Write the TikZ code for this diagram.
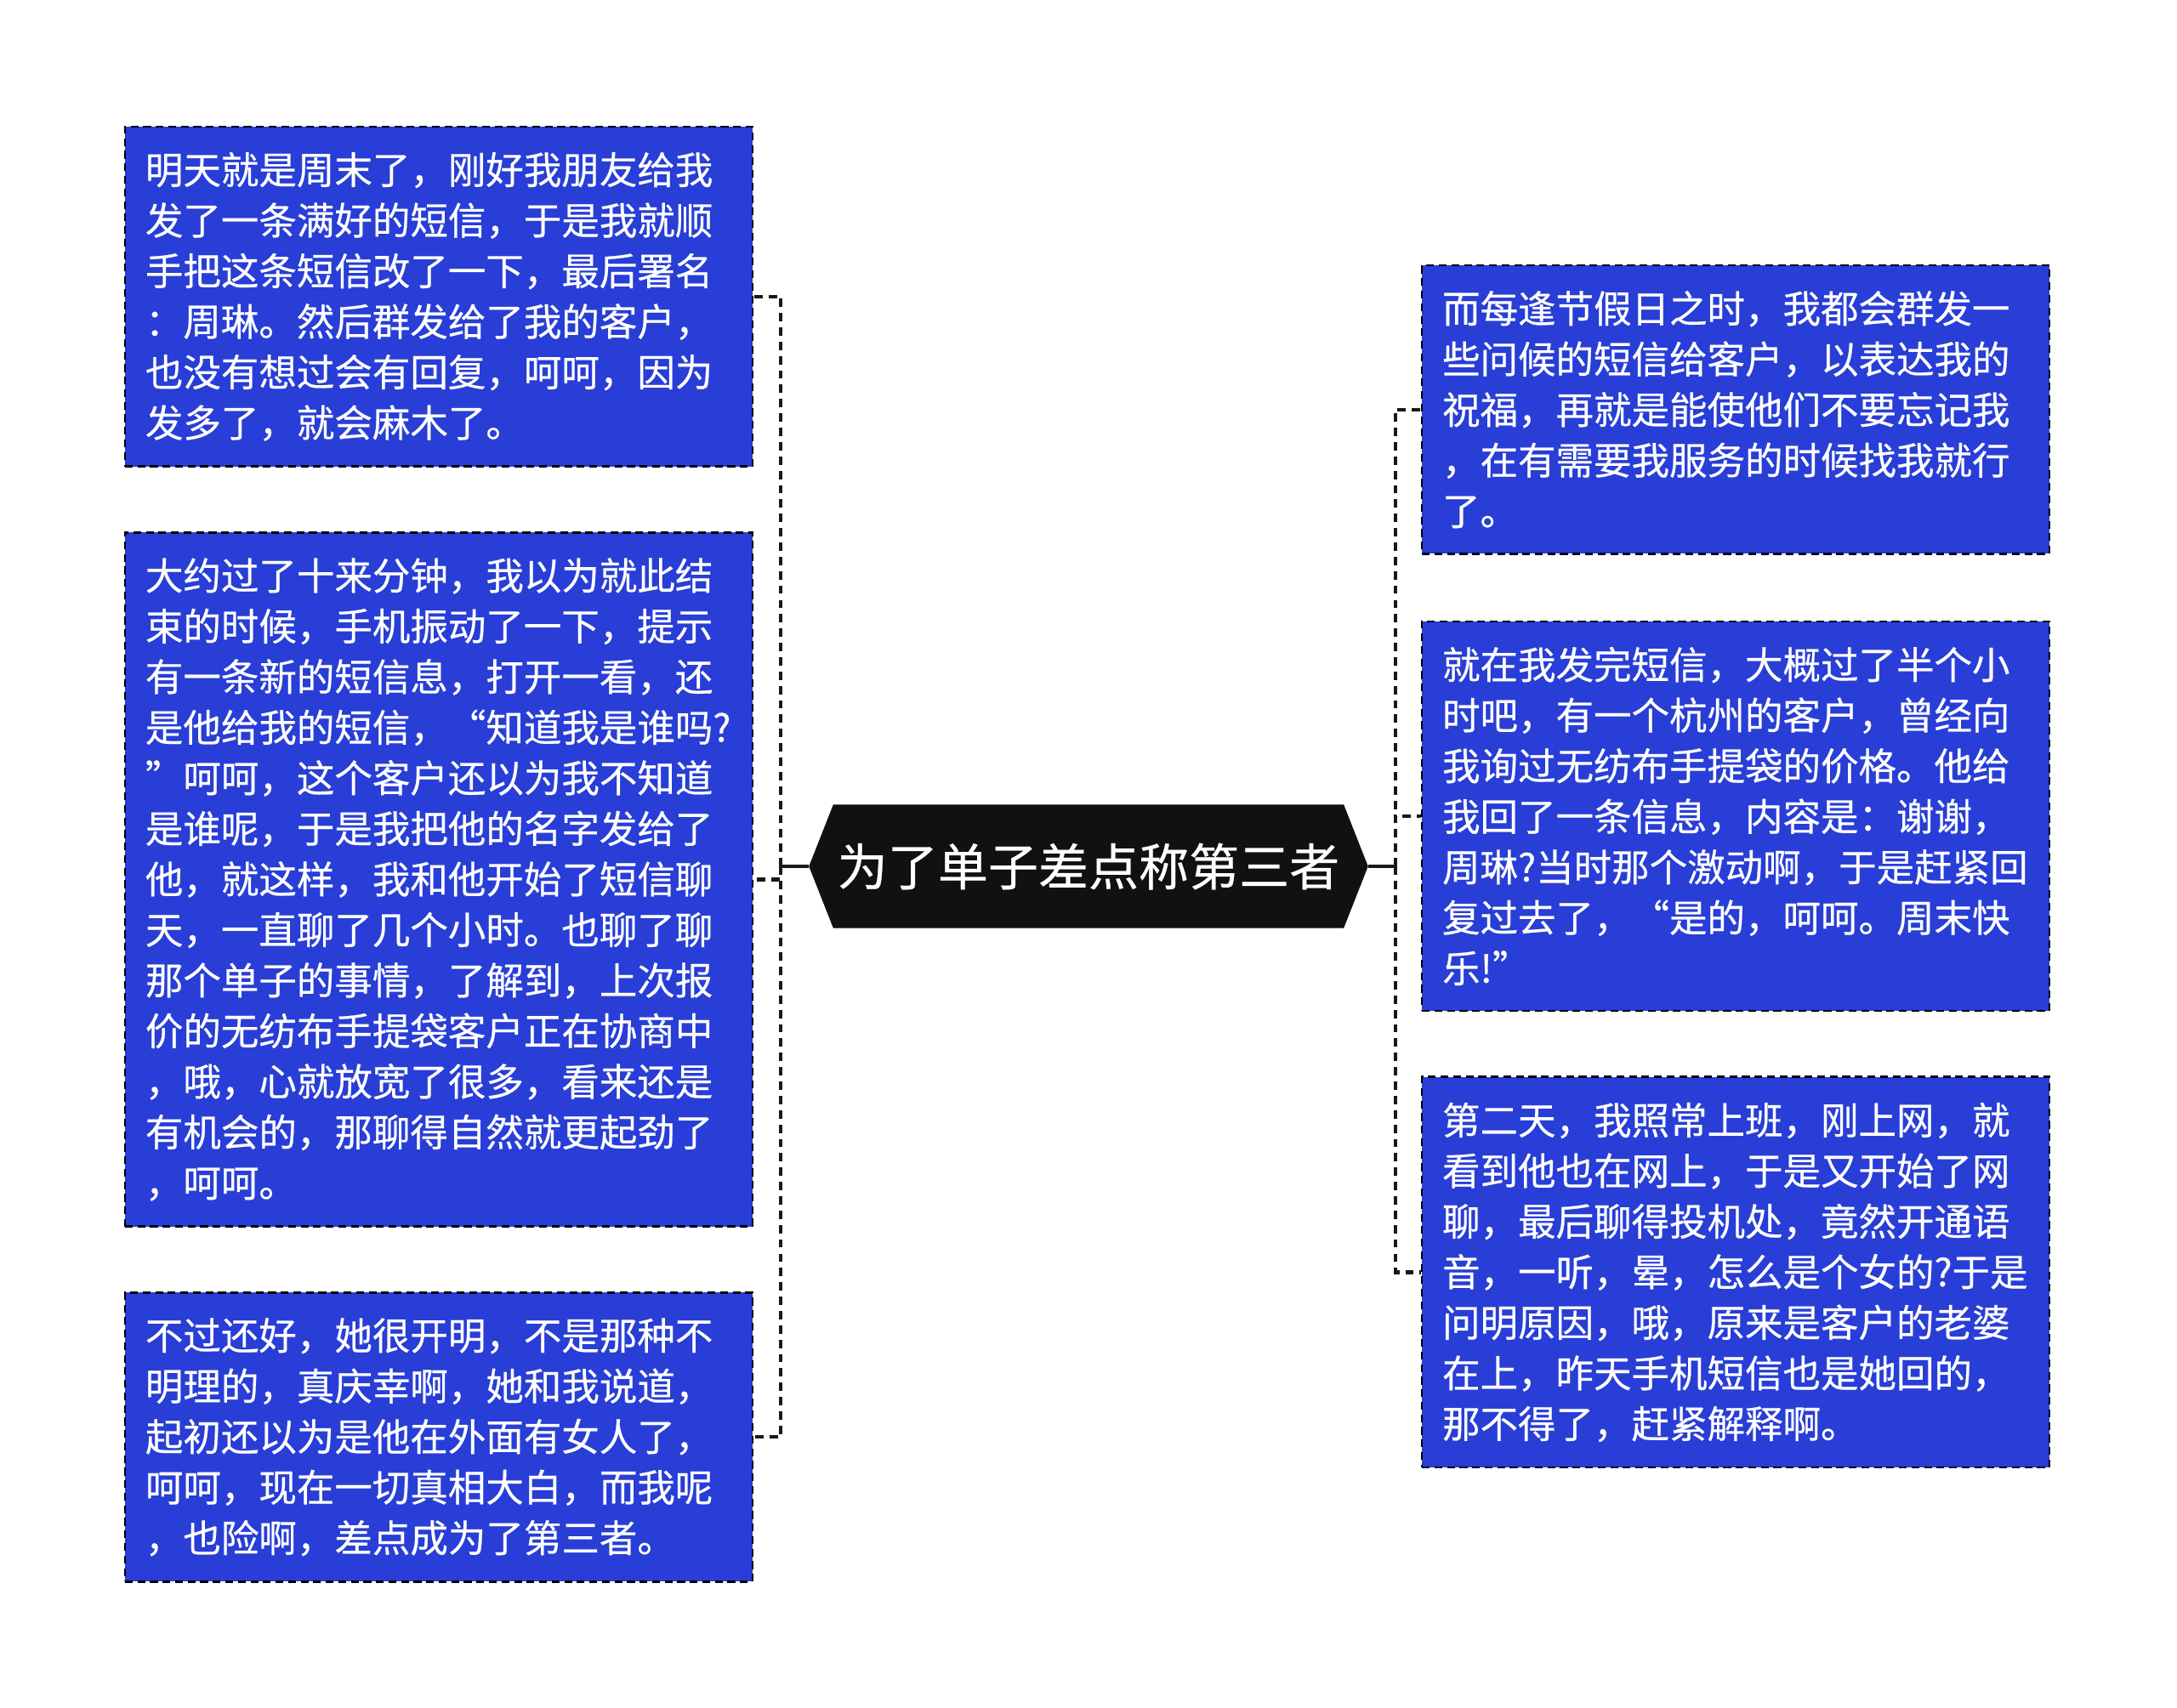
\documentclass[tikz,border=0pt]{standalone}
\usepackage{fontspec}
\setmainfont{Noto Sans CJK SC}[FakeBold=0.5]
\usepackage{xcolor}
\usepackage{tikz}
\usetikzlibrary{shapes.symbols, positioning, calc}

\definecolor{leafblue}{RGB}{40,62,214}
\definecolor{rootdark}{RGB}{17,17,17}
\definecolor{linkdark}{RGB}{25,25,25}

\begin{document}
\begin{tikzpicture}[
    node distance=0.75cm and 0.65cm,
    root/.style={signal, signal to=west and east, signal pointer angle=137, fill=rootdark, draw=rootdark, text=white, minimum width=6.56cm, minimum height=1.44cm, inner sep=0pt, font=\fontsize{16.8pt}{20pt}\selectfont},
    leaf/.style={rectangle, draw=black, line width=0.75pt, dash pattern=on 2.6pt off 1.6pt, fill=leafblue, text=white, text width=6.9cm, align=left, inner xsep=0.24cm, inner ysep=0.3cm, font=\fontsize{12.66pt}{16.93pt}\selectfont},
    trunk/.style={draw=linkdark, line width=1.2pt},
    branch/.style={draw=linkdark, line width=1.2pt, dash pattern=on 2.8pt off 2pt},
]
\useasboundingbox (0,0) rectangle (25.6,-20.09);

% Root
\node[root] (root) at (12.80,-10.19) {为了单子差点称第三者};

% Left side
\node[leaf, left=0.65cm of root, yshift=-0.155cm] (l2) {大约过了十来分钟，我以为就此结\\束的时候，手机振动了一下，提示\\有一条新的短信息，打开一看，还\\是他给我的短信，“知道我是谁吗?\\”呵呵，这个客户还以为我不知道\\是谁呢，于是我把他的名字发给了\\他，就这样，我和他开始了短信聊\\天，一直聊了几个小时。也聊了聊\\那个单子的事情，了解到，上次报\\价的无纺布手提袋客户正在协商中\\，哦，心就放宽了很多，看来还是\\有机会的，那聊得自然就更起劲了\\，呵呵。};
\node[leaf, above=of l2] (l1) {明天就是周末了，刚好我朋友给我\\发了一条满好的短信，于是我就顺\\手把这条短信改了一下，最后署名\\：周琳。然后群发给了我的客户，\\也没有想过会有回复，呵呵，因为\\发多了，就会麻木了。};
\node[leaf, below=of l2] (l3) {不过还好，她很开明，不是那种不\\明理的，真庆幸啊，她和我说道，\\起初还以为是他在外面有女人了，\\呵呵，现在一切真相大白，而我呢\\，也险啊，差点成为了第三者。};

% Right side
\node[leaf, right=0.62cm of root, yshift=0.59cm] (r2) {就在我发完短信，大概过了半个小\\时吧，有一个杭州的客户，曾经向\\我询过无纺布手提袋的价格。他给\\我回了一条信息，内容是：谢谢，\\周琳?当时那个激动啊，于是赶紧回\\复过去了，“是的，呵呵。周末快\\乐!”};
\node[leaf, above=0.77cm of r2] (r1) {而每逢节假日之时，我都会群发一\\些问候的短信给客户，以表达我的\\祝福，再就是能使他们不要忘记我\\，在有需要我服务的时候找我就行\\了。};
\node[leaf, below=of r2] (r3) {第二天，我照常上班，刚上网，就\\看到他也在网上，于是又开始了网\\聊，最后聊得投机处，竟然开通语\\音，一听，晕，怎么是个女的?于是\\问明原因，哦，原来是客户的老婆\\在上，昨天手机短信也是她回的，\\那不得了，赶紧解释啊。};

% Links
\coordinate (lspine) at ($(root.west)+(-0.33,0)$);
\coordinate (rspine) at ($(root.east)+(0.32,0)$);
\draw[trunk] (root.west) -- (lspine);
\draw[trunk] (root.east) -- (rspine);
\foreach \n in {l1,l2,l3} \draw[branch] (lspine) |- (\n.east);
\foreach \n in {r1,r2,r3} \draw[branch] (rspine) |- (\n.west);

\end{tikzpicture}
\end{document}
